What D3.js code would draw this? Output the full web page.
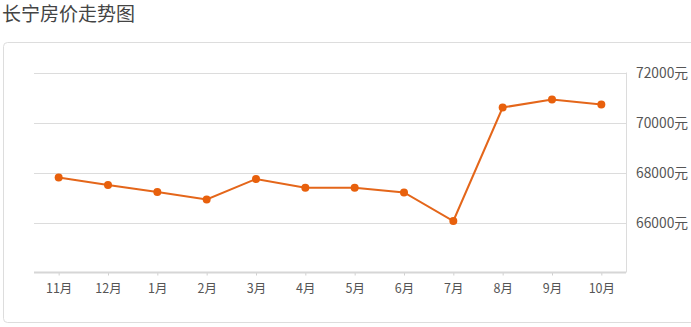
<!DOCTYPE html>
<html><head><meta charset="utf-8">
<script src="https://cdn.jsdelivr.net/npm/d3@7/dist/d3.min.js"></script>
<style>
html,body{margin:0;padding:0;background:#fff;}
svg{display:block;font-family:"Noto Sans CJK SC","Microsoft YaHei",sans-serif;}
</style></head>
<body>
<svg id="c" width="691" height="327"></svg>
<script>
const title = "长宁房价走势图";
const months = ["11月","12月","1月","2月","3月","4月","5月","6月","7月","8月","9月","10月"];
const prices = [67800,67500,67220,66920,67740,67390,67390,67200,66060,70600,70920,70720];
const yTicks = [66000,68000,70000,72000];
const yUnit = "元";

const svg = d3.select("#c");
const W = 691, H = 327;
const L = 34, R = 626, T = 72.5, B = 272.5;

svg.append("text").attr("x",2).attr("y",21).attr("font-size",19).attr("fill","#444").text(title);

svg.append("rect").attr("x",3.5).attr("y",42.5).attr("width",700).attr("height",280)
  .attr("rx",4).attr("fill","#fff").attr("stroke","#ddd").attr("stroke-width",1);

const x = d3.scalePoint().domain(months).range([L,R]).padding(0.5);
const y = d3.scaleLinear().domain([64000,72000]).range([B,T]);

// gridlines
svg.append("g").selectAll("line").data(yTicks).join("line")
  .attr("x1",L).attr("x2",R).attr("y1",d=>Math.round(y(d))+0.5).attr("y2",d=>Math.round(y(d))+0.5)
  .attr("stroke","#dcdcdc").attr("stroke-width",1);
// right vertical line
svg.append("line").attr("x1",R+0.5).attr("x2",R+0.5).attr("y1",T).attr("y2",B)
  .attr("stroke","#dcdcdc");

// y labels
svg.append("g").selectAll("text").data(yTicks).join("text")
  .attr("x",636).attr("y",d=>y(d)+5).attr("font-size",13.8).attr("fill","#555")
  .text(d=>d+yUnit);

// x axis
const xAxis = d3.axisBottom(x).tickSize(3).tickPadding(9).tickFormat(d=>d);
const gx = svg.append("g").attr("transform",`translate(0,${B})`).call(xAxis);
gx.select(".domain").remove();
gx.selectAll(".tick line").attr("stroke","#d0d0d0");
gx.selectAll(".tick text").attr("font-size",12.5).attr("fill","#555")
  .attr("font-family","'Noto Sans CJK SC',sans-serif");
svg.append("line").attr("x1",L).attr("x2",R).attr("y1",B).attr("y2",B)
  .attr("stroke","#d6d6d6").attr("stroke-width",2);

// line
const line = d3.line().x((d,i)=>x(months[i])).y(d=>y(d));
svg.append("path").datum(prices).attr("d",line).attr("fill","none")
  .attr("stroke","#e4661a").attr("stroke-width",2);
svg.append("g").selectAll("circle").data(prices).join("circle")
  .attr("cx",(d,i)=>x(months[i])).attr("cy",d=>y(d)).attr("r",4)
  .attr("fill","#e8600c");
</script>
</body></html>
